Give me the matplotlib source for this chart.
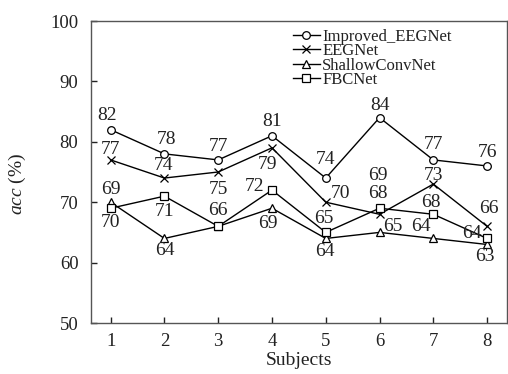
import matplotlib
matplotlib.use('Agg')
import matplotlib.pyplot as plt

plt.rcParams['font.family'] = ['Liberation Serif', 'DejaVu Serif']
plt.rcParams['mathtext.fontset'] = 'custom'
plt.rcParams['mathtext.it'] = 'Liberation Serif:italic'
plt.rcParams['mathtext.rm'] = 'Liberation Serif'

subjects = [1, 2, 3, 4, 5, 6, 7, 8]
improved_eegnet = [82, 78, 77, 81, 74, 84, 77, 76]
eegnet = [77, 74, 75, 79, 70, 68, 73, 66]
shallow_convnet = [70, 64, 66, 69, 64, 65, 64, 63]
fbcnet = [69, 71, 66, 72, 65, 69, 68, 64]

series = [
	('Improved_EEGNet', improved_eegnet, 'o'),
	('EEGNet', eegnet, 'x'),
	('ShallowConvNet', shallow_convnet, '^'),
	('FBCNet', fbcnet, 's'),
]

# label offsets in screen pixels (dx, dy), dy positive = down
label_offsets = [
	[(-4, -14), (2, -14), (0, -13), (0, -14), (0, -19), (0, -12), (0, -15), (0, -13)],
	[(0, -10), (-1, -13), (0, 18), (-4, 17), (15, -9), (-2, -21), (0, -9), (2, -18)],
	[(0, 20), (0, 12), (0, -16), (-4, 15), (-1, 13), (13, -6), (-12, -12), (-2, 12)],
	[(0, -19), (0, 15), None, (-17, -4), (-2, -14), (-2, -33), (-2, -12), (-15, -5)],
]

fig = plt.figure(figsize=(5.08, 3.74), dpi=100)
ax = fig.add_axes([91 / 508, 51 / 374, 416 / 508, 302 / 374])

for (name, vals, mk), offs in zip(series, label_offsets):
	ax.plot(subjects, vals, color='black', lw=1.0, marker=mk, ms=5.5 if mk != 'x' else 6,
			mfc='white', mec='black', mew=0.9, label=name)
	for x, v, off in zip(subjects, vals, offs):
		if off is None:
			continue
		ax.annotate(str(v), (x, v), xytext=(off[0], -off[1]), textcoords='offset pixels',
					ha='center', va='center', fontsize=14, color='#222222')

ax.set_xlim(0.635, 8.37)
ax.set_ylim(50, 100)
ax.set_xticks(subjects)
ax.set_yticks([50, 60, 70, 80, 90, 100])
ax.tick_params(direction='in', length=4, width=1, labelsize=13.5, colors='#222222')
ax.tick_params(axis='y', pad=9)
ax.tick_params(axis='x', pad=7)
for sp in ax.spines.values():
	sp.set_color('#555555')
	sp.set_linewidth(1.0)

ax.set_xlabel('Subjects', fontsize=14, color='#222222')
ax.xaxis.set_label_coords(0.5, -0.095)
ax.set_ylabel(r'$acc$ (%)', fontsize=14, color='#222222')
ax.yaxis.set_label_coords(-0.152, 0.46)

leg = ax.legend(loc='upper left', bbox_to_anchor=(293 / 508, 1 - 29 / 374),
				bbox_transform=fig.transFigure, frameon=False, fontsize=12,
				borderpad=0, handlelength=1.6, handletextpad=0.15, labelspacing=-0.1,
				borderaxespad=0)
for t in leg.get_texts():
	t.set_color('#222222')

fig.savefig('out.png', dpi=100)
